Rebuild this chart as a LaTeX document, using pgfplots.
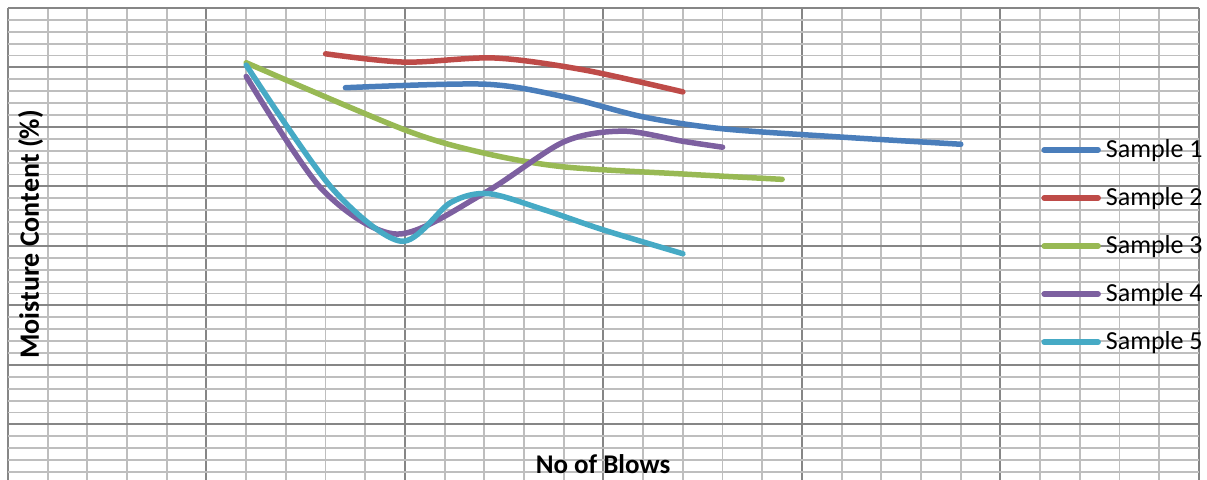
\documentclass[border=0pt]{standalone}
\usepackage{fontspec}
\setmainfont{Carlito}
\usepackage{pgfplots}
\pgfplotsset{compat=1.18}
\definecolor{sone}{HTML}{4A7EBB}
\definecolor{stwo}{HTML}{BE4B48}
\definecolor{sthree}{HTML}{98B954}
\definecolor{sfour}{HTML}{7D60A0}
\definecolor{sfive}{HTML}{46AAC5}
\definecolor{majgrid}{HTML}{868686}
\definecolor{mingrid}{HTML}{BEBEBE}
\begin{document}
\begin{tikzpicture}
\useasboundingbox (-4pt,0pt) rectangle (599.5pt,240pt);
\begin{axis}[
  at={(0pt,0pt)}, anchor=south west,
  scale only axis, width=595.5pt, height=236pt,
  xmin=0, xmax=60, ymin=0.67, ymax=80,
  xtick={0,10,...,60}, ytick={0,10,...,80},
  minor x tick num=4, minor y tick num=4,
  xticklabels={}, yticklabels={},
  major tick length=0pt, minor tick length=0pt,
  grid=both,
  major grid style={color=majgrid, line width=1pt},
  minor grid style={color=mingrid, line width=0.9pt},
  axis line style={draw=none},
  every axis plot/.append style={line width=2.75pt, line cap=round, line join=round, smooth, no markers},
  legend image code/.code={\draw[#1] (0pt,0pt) -- (27pt,0pt);},
  legend style={at={(0.8623,0.731)}, anchor=north west, draw=none, fill=none,
    font=\fontsize{13}{15.6}\selectfont, row sep=13.5pt,
    nodes={inner xsep=2.5pt, inner ysep=0pt}},
  legend cell align=left,
]
\addplot[sone] coordinates {(17,66.6)(24,67.2)(28,65.1)(32,61.7)(36,59.7)(42,58.3)(48,57.1)};
\addlegendentry{Sample 1}
\addplot[stwo] coordinates {(16,72.3)(20,70.9)(24.5,71.6)(29,69.6)(34,65.9)};
\addlegendentry{Sample 2}
\addplot[sthree] coordinates {(12,70.8)(20,59.5)(24,55.6)(28,53.3)(34,52.1)(39,51.2)};
\addlegendentry{Sample 3}
\addplot[sfour] coordinates {(12,68.5)(15.8,49.6)(19.6,42)(24,48.9)(28,57.5)(31,59.3)(34,57.6)(36,56.6)};
\addlegendentry{Sample 4}
\addplot[sfive] coordinates {(12,70.4)(16.3,49.8)(19.8,40.8)(22.3,47.3)(24.2,48.8)(27,46.1)(30,42.7)(34,38.7)};
\addlegendentry{Sample 5}
\node[rotate=90, font=\bfseries\fontsize{14}{17}\selectfont] at (rel axis cs:0.019,0.52) {Moisture Content (\%)};
\node[anchor=base, font=\bfseries\fontsize{13.5}{16}\selectfont] at (rel axis cs:0.4996,0.0127) {No of Blows};
\end{axis}
\end{tikzpicture}
\end{document}
